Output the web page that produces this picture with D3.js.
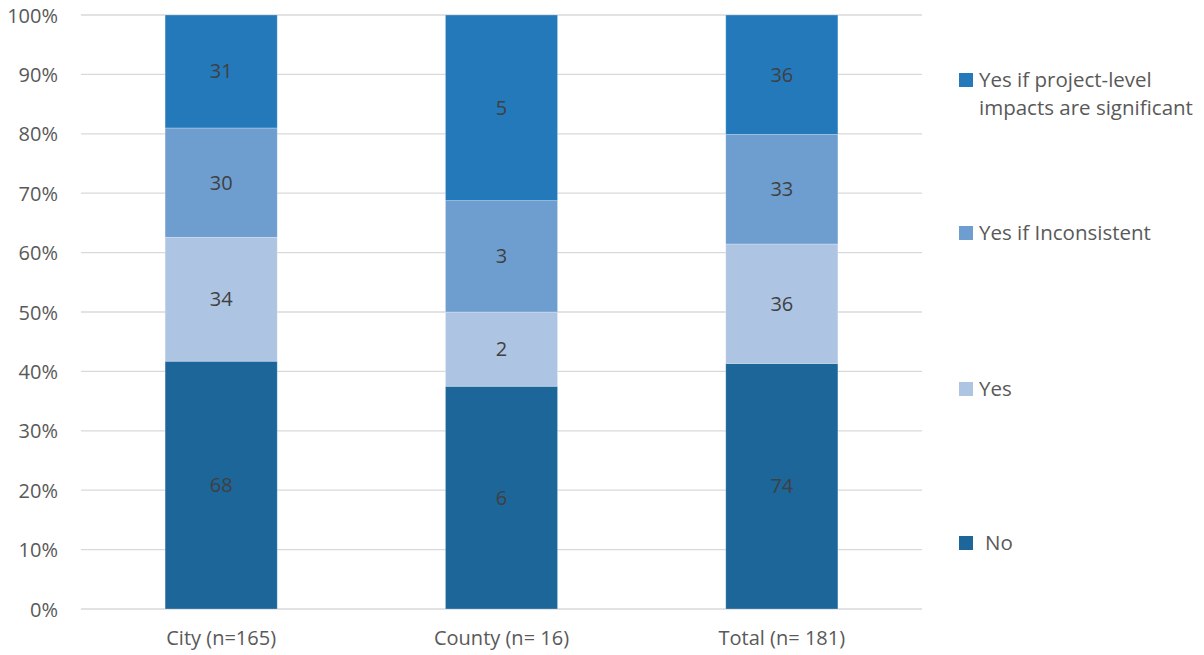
<!DOCTYPE html>
<html>
<head>
<meta charset="utf-8">
<script src="https://cdn.jsdelivr.net/npm/d3@7"></script>
<style>
  html, body { margin: 0; padding: 0; background: #fff; }
  svg text { font-family: "Open Sans", "Noto Sans", sans-serif; }
</style>
</head>
<body>
<svg id="chart" width="1204" height="655"></svg>
<script>
// Survey responses by jurisdiction type (counts per answer)
const categories = ["City (n=165)", "County (n= 16)", "Total (n= 181)"];
const seriesNames = ["No", "Yes", "Yes if Inconsistent", "Yes if project-level impacts are significant"];
const noValues = [68, 6, 74];
const yesValues = [34, 2, 36];
const inconsistentValues = [30, 3, 33];
const projectLevelValues = [31, 5, 36];
const seriesColors = ["#1d6699", "#aec4e3", "#6d9ecf", "#2479bb"];
const yTicks = [0, 0.1, 0.2, 0.3, 0.4, 0.5, 0.6, 0.7, 0.8, 0.9, 1];

const seriesValues = [noValues, yesValues, inconsistentValues, projectLevelValues];

// One row per category, with every answer's count
const rows = categories.map((c, i) => {
  const r = { category: c };
  seriesNames.forEach((s, j) => { r[s] = seriesValues[j][i]; });
  return r;
});

const stack = d3.stack().keys(seriesNames).offset(d3.stackOffsetExpand);
const layers = stack(rows);

const svg = d3.select("#chart");
const plot = { left: 81, right: 922, top: 15, bottom: 609 };
const fontSize = "20px";

const x = d3.scaleBand()
  .domain(categories)
  .range([plot.left, plot.right])
  .paddingInner(0.6)
  .paddingOuter(0.3);

const y = d3.scaleLinear().domain([0, 1]).range([plot.bottom, plot.top]);

// Horizontal gridlines
svg.append("g")
  .selectAll("line")
  .data(yTicks)
  .join("line")
  .attr("x1", plot.left)
  .attr("x2", plot.right)
  .attr("y1", d => y(d))
  .attr("y2", d => y(d))
  .attr("stroke", "#d9d9d9")
  .attr("stroke-width", 1.3);

// Y axis labels
const yAxis = d3.axisLeft(y).tickValues(yTicks).tickFormat(d3.format(".0%")).tickSize(0).tickPadding(0);
svg.append("g")
  .attr("transform", `translate(${58},0)`)
  .call(yAxis)
  .call(g => g.select(".domain").remove())
  .call(g => g.selectAll("text")
    .attr("fill", "#595959")
    .style("font-size", fontSize)
    .attr("dy", "0.35em"));

// X axis labels
const xAxis = d3.axisBottom(x).tickSize(0).tickPadding(0);
svg.append("g")
  .attr("transform", `translate(0,${plot.bottom})`)
  .call(xAxis)
  .call(g => g.select(".domain").remove())
  .call(g => g.selectAll("text")
    .attr("fill", "#595959")
    .style("font-size", fontSize)
    .attr("y", 29)
    .attr("dy", "0.35em"));

// Stacked segments
const layerG = svg.append("g")
  .selectAll("g")
  .data(layers)
  .join("g")
  .attr("fill", (d, i) => seriesColors[i]);

layerG.selectAll("rect")
  .data(d => d)
  .join("rect")
  .attr("x", d => x(d.data.category))
  .attr("width", x.bandwidth())
  .attr("y", d => y(d[1]))
  .attr("height", d => y(d[0]) - y(d[1]))
  .attr("stroke", "#ffffff")
  .attr("stroke-opacity", 0.35)
  .attr("stroke-width", 0.75);

// Count labels inside segments
layers.forEach((layer, i) => {
  svg.append("g")
    .selectAll("text")
    .data(layer)
    .join("text")
    .attr("x", d => x(d.data.category) + x.bandwidth() / 2)
    .attr("y", d => y((d[0] + d[1]) / 2))
    .attr("dy", "0.35em")
    .attr("text-anchor", "middle")
    .attr("fill", "#404040")
    .style("font-size", fontSize)
    .text(d => d.data[layer.key]);
});

// Legend, top entry first
const legendItems = [
  { idx: 3, lines: ["Yes if project-level", "impacts are significant"], cy: 80 },
  { idx: 2, lines: ["Yes if Inconsistent"], cy: 233 },
  { idx: 1, lines: ["Yes"], cy: 389 },
  { idx: 0, lines: ["No"], cy: 543, dx: 6 }
];

const legend = svg.append("g");
legendItems.forEach(item => {
  legend.append("rect")
    .attr("x", 959)
    .attr("y", item.cy - 7)
    .attr("width", 14)
    .attr("height", 14)
    .attr("fill", seriesColors[item.idx]);
  const t = legend.append("text")
    .attr("x", 979 + (item.dx || 0))
    .attr("y", item.cy)
    .attr("fill", "#595959")
    .style("font-size", "20.5px");
  item.lines.forEach((line, k) => {
    t.append("tspan")
      .attr("x", 979 + (item.dx || 0))
      .attr("dy", k === 0 ? "0.35em" : "28px")
      .text(line);
  });
});
</script>
</body>
</html>
